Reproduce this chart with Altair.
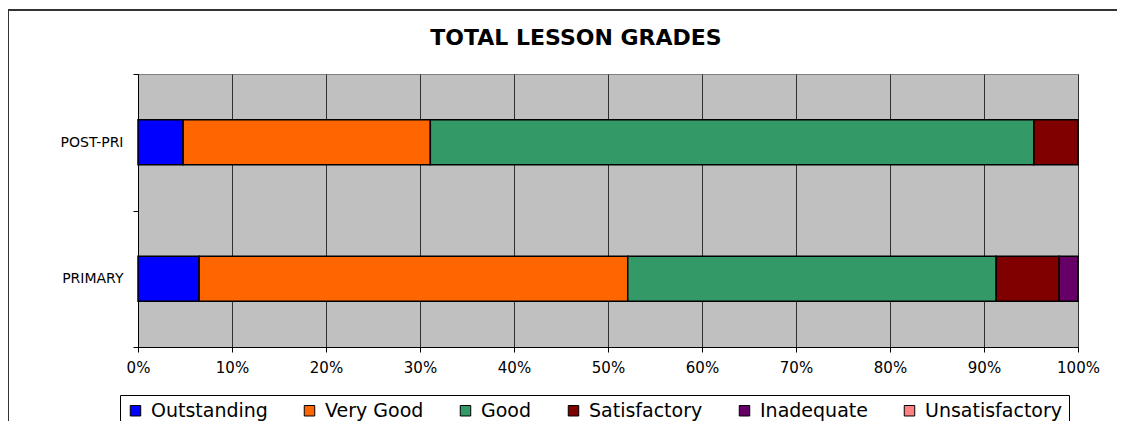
import altair as alt
import pandas as pd

categories = ["POST-PRI", "PRIMARY"]
grades = ["Outstanding", "Very Good", "Good", "Satisfactory", "Inadequate", "Unsatisfactory"]
colors = ["#0000FF", "#FF6600", "#339966", "#800000", "#660066", "#FF8080"]
post_pri = [4.8, 26.3, 64.2, 4.7, 0.0, 0.0]
primary = [6.5, 45.6, 39.2, 6.7, 2.0, 0.0]
x_ticks = [0, 0.1, 0.2, 0.3, 0.4, 0.5, 0.6, 0.7, 0.8, 0.9, 1.0]

rows = []
for cat, vals in zip(categories, [post_pri, primary]):
    for i, (g, v) in enumerate(zip(grades, vals)):
        if v > 0:
            rows.append({"phase": cat, "grade": g, "value": v, "order": i})
df = pd.DataFrame(rows)

FONT = "DejaVu Sans"

bars = alt.Chart(df).mark_bar(
    height=alt.RelativeBandSize(0.33), stroke="black", strokeWidth=1.5
).encode(
    x=alt.X("value:Q", stack="normalize",
            scale=alt.Scale(domain=[0, 1], nice=False),
            axis=alt.Axis(values=x_ticks, format=".0%", title=None,
                          grid=True, gridColor="#303030", gridWidth=1,
                          domainColor="black", tickColor="black", tickSize=5,
                          labelFont=FONT, labelFontSize=15, labelColor="black",
                          labelFlush=False, labelPadding=8)),
    y=alt.Y("phase:N", sort=categories,
            scale=alt.Scale(paddingInner=0, paddingOuter=0),
            axis=alt.Axis(title=None, tickBand="extent", grid=False,
                          domainColor="black", tickColor="black", tickSize=5,
                          labelFont=FONT, labelFontSize=14, labelColor="black",
                          labelPadding=10)),
    color=alt.Color("grade:N", sort=grades,
                    scale=alt.Scale(domain=grades, range=colors),
                    legend=alt.Legend(title=None, orient="none", legendX=-18, legendY=321,
                                      direction="horizontal", columns=6,
                                      symbolType="square", symbolSize=110,
                                      symbolStrokeColor="black", symbolStrokeWidth=1,
                                      labelFont=FONT, labelFontSize=19, labelColor="black",
                                      labelOffset=6, columnPadding=32,
                                      strokeColor="black", padding=6)),
    order=alt.Order("order:Q"),
)

frame = alt.Chart(pd.DataFrame({"a": [0]})).mark_rect(
    fill="transparent", stroke="#333333", strokeWidth=2
).encode(
    x=alt.value(-130), x2=alt.value(1300), y=alt.value(-64), y2=alt.value(600)
)

chart = alt.layer(frame, bars).properties(
    width=940, height=273,
    title=alt.TitleParams("TOTAL LESSON GRADES", font=FONT, fontSize=22,
                          fontWeight="bold", color="black", anchor="middle",
                          frame="group", dx=-32, offset=-41),
    autosize=alt.AutoSizeParams(type="none"),
    padding={"left": 130, "top": 66, "right": 39, "bottom": 80},
).configure_view(
    fill="#C0C0C0", stroke="#808080", strokeWidth=1
)

chart.save("out.html", embed_options={"renderer": "svg", "actions": False})
